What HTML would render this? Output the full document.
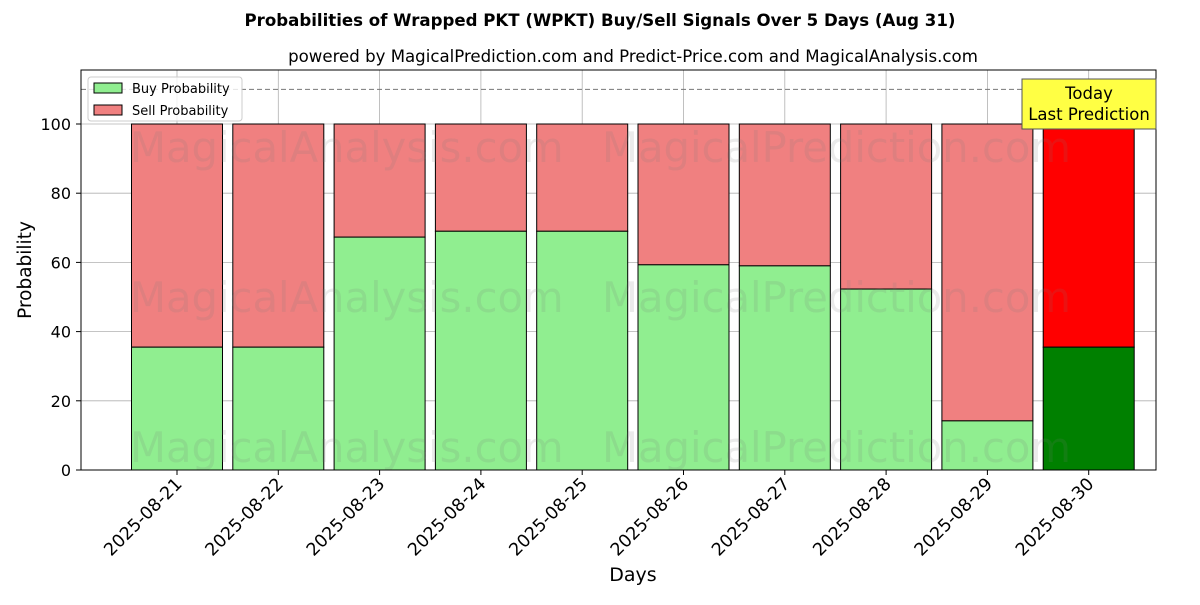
<!DOCTYPE html>
<html><head><meta charset="utf-8"><style>
body{margin:0;background:#fff;font-family:"Liberation Sans","DejaVu Sans",sans-serif}
svg text{font-family:"DejaVu Sans","Liberation Sans",sans-serif}
</style></head><body>
<svg id="c" width="1200" height="600" xmlns="http://www.w3.org/2000/svg">
<rect width="1200" height="600" fill="#fff"/>
<text x="600" y="26" text-anchor="middle" font-size="16.6" font-weight="bold">Probabilities of Wrapped PKT (WPKT) Buy/Sell Signals Over 5 Days (Aug 31)</text>
<text x="633" y="62" text-anchor="middle" font-size="16.6">powered by MagicalPrediction.com and Predict-Price.com and MagicalAnalysis.com</text>
<g id="grid"></g>
<g id="bars"></g>
<g id="wm" font-size="41.7" fill="rgba(120,120,120,0.15)">
<text x="130" y="162">MagicalAnalysis.com</text><text x="602" y="162">MagicalPrediction.com</text>
<text x="130" y="312">MagicalAnalysis.com</text><text x="602" y="312">MagicalPrediction.com</text>
<text x="130" y="462">MagicalAnalysis.com</text><text x="602" y="462">MagicalPrediction.com</text>
</g>
<line x1="81" x2="1156" y1="89.4" y2="89.4" stroke="#777" stroke-dasharray="5,3"/>
<rect x="81" y="70" width="1075" height="400" fill="none" stroke="#000"/>
<g id="axes"></g>
<text x="633" y="581" text-anchor="middle" font-size="19">Days</text>
<text transform="translate(31,270) rotate(-90)" text-anchor="middle" font-size="18.5">Probability</text>
<g>
<rect x="88" y="77" width="154" height="44" rx="3" fill="#fff" fill-opacity="0.8" stroke="#ccc"/>
<rect x="94" y="83" width="28" height="10" fill="#90ee90" stroke="#000"/>
<text x="132" y="93" font-size="13">Buy Probability</text>
<rect x="94" y="105" width="28" height="10" fill="#f08080" stroke="#000"/>
<text x="132" y="115" font-size="13">Sell Probability</text>
</g>
<g>
<rect x="1022" y="79" width="134" height="50" fill="#ffff44" stroke="#555"/>
<text x="1089" y="99" text-anchor="middle" font-size="16.5">Today</text>
<text x="1089" y="120" text-anchor="middle" font-size="16.5">Last Prediction</text>
</g>
</svg>
<script>
const categories=["2025-08-21","2025-08-22","2025-08-23","2025-08-24","2025-08-25","2025-08-26","2025-08-27","2025-08-28","2025-08-29","2025-08-30"];
const buyValues=[35.5,35.5,67.3,69,69,59.3,59,52.3,14.2,35.5];
const yTicks=[0,20,40,60,80,100];
const NS="http://www.w3.org/2000/svg";
function y(v){return 470-v*3.46;}
function x(i){return 177+i*101.3;}
function mk(t,a,p){const e=document.createElementNS(NS,t);for(const k in a)e.setAttribute(k,a[k]);p.appendChild(e);return e;}
const grid=document.getElementById('grid'),bars=document.getElementById('bars'),axes=document.getElementById('axes');
yTicks.forEach(v=>{
 const g=mk('line',{x1:81,x2:1156,y1:y(v),y2:y(v),stroke:'#b0b0b0','stroke-width':0.8},grid);
 
 
 mk('line',{x1:76,x2:81,y1:y(v),y2:y(v),stroke:'#000'},axes);
 const t=mk('text',{x:71,y:y(v)+6,'text-anchor':'end','font-size':16},axes);t.textContent=v;
 
 
});
categories.forEach((c,i)=>{
 const cx=x(i),last=i===categories.length-1,b=buyValues[i];
 const gl=mk('line',{x1:cx,x2:cx,y1:70,y2:470,stroke:'#b0b0b0','stroke-width':0.8},grid);
 
 
 const s=mk('rect',{x:cx-45.5,y:y(100),width:91,height:y(b)-y(100),fill:last?'#ff0000':'#f08080',stroke:'#000'},bars);
 
 
 const r=mk('rect',{x:cx-45.5,y:y(b),width:91,height:470-y(b),fill:last?'#008000':'#90ee90',stroke:'#000'},bars);
 
 
 mk('line',{x1:cx,x2:cx,y1:470,y2:475,stroke:'#000'},axes);
 const t=mk('text',{x:0,y:0,'text-anchor':'end','font-size':17.5,transform:`translate(${cx+6},${485}) rotate(-45)`},axes);t.textContent=c;
 
 
});
</script>
</body></html>
